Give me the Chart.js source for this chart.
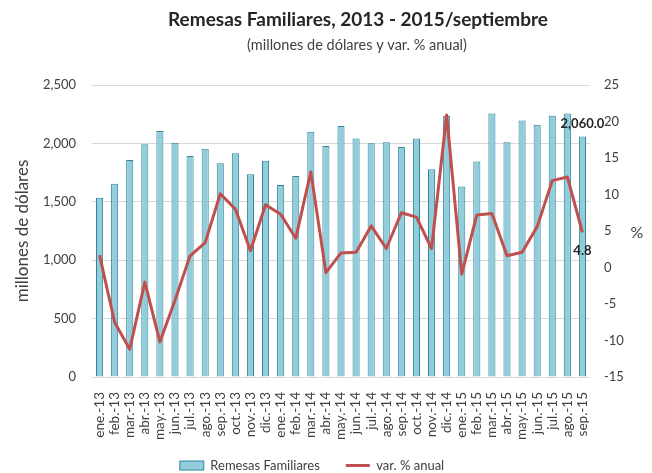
<!DOCTYPE html>
<html>
<head>
<meta charset="utf-8">
<script src="https://cdn.jsdelivr.net/npm/chart.js@4.4.1/dist/chart.umd.min.js"></script>
<style>
  body { margin: 0; background: #fff; }
  #wrap { width: 652px; height: 473px; }
</style>
</head>
<body>
<div id="wrap"><canvas id="chart" width="652" height="473"></canvas></div>
<script>
const months = ['ene.-13','feb.-13','mar.-13','abr.-13','may.-13','jun.-13','jul.-13','ago.-13','sep.-13','oct.-13','nov.-13','dic.-13',
  'ene.-14','feb.-14','mar.-14','abr.-14','may.-14','jun.-14','jul.-14','ago.-14','sep.-14','oct.-14','nov.-14','dic.-14',
  'ene.-15','feb.-15','mar.-15','abr.-15','may.-15','jun.-15','jul.-15','ago.-15','sep.-15'];
const remesas = [1535, 1655, 1858, 1992, 2106, 2006, 1892, 1955, 1829, 1915, 1735, 1852,
  1644, 1721, 2100, 1978, 2149, 2043, 2001, 2009, 1969, 2043, 1778, 2237,
  1630, 1846, 2257, 2009, 2195, 2160, 2237, 2257, 2060];
const varAnual = [1.7, -7.5, -11.2, -2.0, -10.2, -4.5, 1.6, 3.4, 10.1, 8.0, 2.3, 8.6,
  7.3, 4.0, 13.1, -0.7, 2.0, 2.1, 5.7, 2.6, 7.5, 6.9, 2.6, 20.9,
  -0.9, 7.2, 7.4, 1.6, 2.1, 5.6, 11.9, 12.4, 4.8];

const FONT = 'Lato, "Open Sans", sans-serif';
const txt = '#404040';

// titulos, "%" y etiquetas del ultimo dato
const extras = {
  id: 'extras',
  afterLayout(chart) {
    // la leyenda del original esta corrida a la izquierda
    chart.legend.left -= 14;
    chart.legend.right -= 14;
    chart.legend.top -= 11;
    chart.legend.bottom -= 11;
  },
  afterDatasetsDraw(chart) {
    const ctx = chart.ctx;
    ctx.save();
    ctx.fillStyle = '#262626';
    ctx.textAlign = 'center';
    ctx.textBaseline = 'middle';
    ctx.font = 'bold 19px ' + FONT;
    ctx.fillText('Remesas Familiares, 2013 - 2015/septiembre', 358, 20);
    ctx.font = '14.5px ' + FONT;
    ctx.fillStyle = txt;
    ctx.fillText('(millones de dólares y var. % anual)', 357, 45);
    ctx.font = '16px ' + FONT;
    ctx.fillText('%', 637, 233);

    const last = remesas.length - 1;
    const bar = chart.getDatasetMeta(0).data[last];
    const pt = chart.getDatasetMeta(1).data[last];
    ctx.fillStyle = '#262626';
    ctx.font = 'bold 13px ' + FONT;
    ctx.fillText(remesas[last].toLocaleString('en-US', {minimumFractionDigits: 1}), bar.x, bar.y - 13);
    ctx.fillText(varAnual[last].toFixed(1), pt.x, pt.y + 18);
    ctx.restore();
  }
};

new Chart(document.getElementById('chart'), {
  type: 'bar',
  data: {
    labels: months,
    datasets: [
      {
        type: 'bar',
        label: 'Remesas Familiares',
        data: remesas,
        yAxisID: 'y',
        backgroundColor: '#92CDDC',
        borderColor: '#31849B',
        borderWidth: 1,
        barPercentage: 0.47,
        categoryPercentage: 1,
        order: 2
      },
      {
        type: 'line',
        label: 'var. % anual',
        data: varAnual,
        yAxisID: 'y1',
        borderColor: '#C0504D',
        backgroundColor: '#C0504D',
        borderWidth: 3,
        borderJoinStyle: 'round',
        pointRadius: 0,
        tension: 0,
        order: 1
      }
    ]
  },
  options: {
    responsive: false,
    animation: false,
    layout: { padding: { top: 85, left: 0, right: 0, bottom: -20 } },
    plugins: {
      title: { display: false },
      tooltip: { enabled: false },
      legend: {
        position: 'bottom',
        labels: {
          usePointStyle: true,
          pointStyleWidth: 24,
          boxHeight: 9,
          padding: 26,
          color: txt,
          font: { family: FONT, size: 13 },
          generateLabels(chart) {
            const ds = chart.data.datasets;
            return [
              { text: ds[0].label, fillStyle: ds[0].backgroundColor, strokeStyle: ds[0].borderColor, lineWidth: 1, pointStyle: 'rect', datasetIndex: 0, fontColor: txt },
              { text: ds[1].label, fillStyle: ds[1].borderColor, strokeStyle: ds[1].borderColor, lineWidth: 3, pointStyle: 'line', datasetIndex: 1, fontColor: txt }
            ];
          }
        }
      }
    },
    scales: {
      x: {
        grid: { display: false },
        border: { display: false },
        ticks: {
          color: txt,
          font: { family: FONT, size: 13.5 },
          minRotation: 90,
          maxRotation: 90,
          autoSkip: false,
          padding: 7
        },
        afterFit(scale) { scale.height = 67; }
      },
      y: {
        position: 'left',
        min: 0,
        max: 2500,
        grid: { color: '#D9D9D9', lineWidth: 1, drawTicks: false },
        border: { display: false },
        ticks: {
          stepSize: 500,
          padding: 16,
          color: txt,
          font: { family: FONT, size: 13 },
          callback: v => v.toLocaleString('en-US')
        },
        title: {
          display: true,
          text: 'millones de dólares',
          color: txt,
          font: { family: FONT, size: 17 },
          padding: { top: 12, bottom: 0 }
        },
        afterFit(scale) { scale.width = 92; }
      },
      y1: {
        position: 'right',
        min: -15,
        max: 25,
        grid: { display: false, drawTicks: false },
        border: { display: false },
        ticks: {
          stepSize: 5,
          padding: 14,
          color: txt,
          font: { family: FONT, size: 13 }
        },
        afterFit(scale) { scale.width = 62; }
      }
    }
  },
  plugins: [extras]
});
</script>
</body>
</html>
